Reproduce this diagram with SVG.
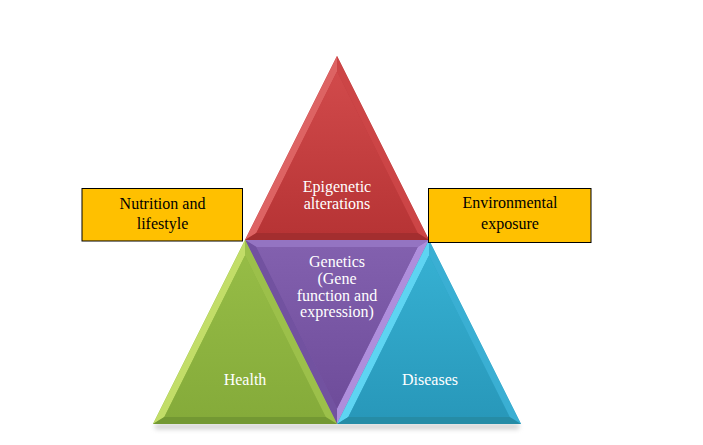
<svg xmlns="http://www.w3.org/2000/svg" width="703" height="445" viewBox="0 0 703 445">
<defs>
<style>
.lbl{font-family:"Liberation Serif","Times New Roman",serif;font-size:16px;text-anchor:middle;fill:#ffffff}
.blbl{font-family:"Liberation Serif","Times New Roman",serif;font-size:16px;text-anchor:middle;fill:#000000}
.box{fill:#FFC000;stroke:#000000;stroke-width:1}
</style>
<linearGradient id="gRed" x1="0" y1="0" x2="0" y2="1"><stop offset="0" stop-color="#D14A4B"/><stop offset="1" stop-color="#B73435"/></linearGradient>
<linearGradient id="gPur" x1="0" y1="0" x2="0" y2="1"><stop offset="0" stop-color="#8260AE"/><stop offset="1" stop-color="#6E4C9A"/></linearGradient>
<linearGradient id="gGrn" x1="0" y1="0" x2="0" y2="1"><stop offset="0" stop-color="#96BC46"/><stop offset="1" stop-color="#85AB3A"/></linearGradient>
<linearGradient id="gBlu" x1="0" y1="0" x2="0" y2="1"><stop offset="0" stop-color="#36B0D2"/><stop offset="1" stop-color="#2898BA"/></linearGradient>
<filter id="blur" x="-10%" y="-100%" width="120%" height="300%"><feGaussianBlur stdDeviation="2.5"/></filter>
</defs>
<rect width="703" height="445" fill="#ffffff"/>
<g id="shadow">
<rect x="155" y="424" width="364" height="5" fill="#9a9a9a" opacity="0.5" filter="url(#blur)"/>
</g>
<g id="node-epigenetic">
<polygon points="337,56 245,240 429,240" fill="#C0393C"/>
<polygon points="337,56 245,240 256.3,233 337,71.6" fill="#DD6363"/>
<polygon points="337,56 429,240 417.7,233 337,71.6" fill="#CC4546"/>
<polygon points="245,240 429,240 417.7,233 256.3,233" fill="#A32E2F"/>
<polygon points="337,71.6 256.3,233 417.7,233" fill="url(#gRed)"/>
<text class="lbl" x="337" y="192">Epigenetic</text>
<text class="lbl" x="337" y="209">alterations</text>
</g>
<g id="node-genetics">
<polygon points="245,240 429,240 337,424" fill="#7A56A6"/>
<polygon points="245,240 429,240 417.7,247 256.3,247" fill="#9474C2"/>
<polygon points="245,240 337,424 337,408.4 256.3,247" fill="#7252A0"/>
<polygon points="429,240 337,424 337,408.4 417.7,247" fill="#AE8EDC"/>
<polygon points="256.3,247 417.7,247 337,408.4" fill="url(#gPur)"/>
<text class="lbl" x="337" y="267">Genetics</text>
<text class="lbl" x="337" y="284">(Gene</text>
<text class="lbl" x="337" y="301">function and</text>
<text class="lbl" x="337" y="317">expression)</text>
</g>
<g id="node-health">
<polygon points="245,240 153,424 337,424" fill="#8CB23F"/>
<polygon points="245,240 153,424 164.3,417 245,255.6" fill="#C2DD68"/>
<polygon points="245,240 337,424 325.7,417 245,255.6" fill="#9CC04A"/>
<polygon points="153,424 337,424 325.7,417 164.3,417" fill="#739833"/>
<polygon points="245,255.6 164.3,417 325.7,417" fill="url(#gGrn)"/>
<text class="lbl" x="245" y="385">Health</text>
</g>
<g id="node-diseases">
<polygon points="429,240 337,424 521,424" fill="#2DA3C6"/>
<polygon points="429,240 337,424 348.3,417 429,255.6" fill="#5ED4F2"/>
<polygon points="429,240 521,424 509.7,417 429,255.6" fill="#3AAFD3"/>
<polygon points="337,424 521,424 509.7,417 348.3,417" fill="#268CA6"/>
<polygon points="429,255.6 348.3,417 509.7,417" fill="url(#gBlu)"/>
<text class="lbl" x="430" y="385">Diseases</text>
</g>
<g id="node-nutrition">
<rect class="box" x="82" y="188.5" width="160.5" height="52.5"/>
<text class="blbl" x="162.5" y="208.5">Nutrition and</text>
<text class="blbl" x="162.5" y="229">lifestyle</text>
</g>
<g id="node-environment">
<rect class="box" x="428.5" y="188.5" width="162.5" height="54"/>
<text class="blbl" x="510" y="208">Environmental</text>
<text class="blbl" x="510" y="229">exposure</text>
</g>
</svg>
